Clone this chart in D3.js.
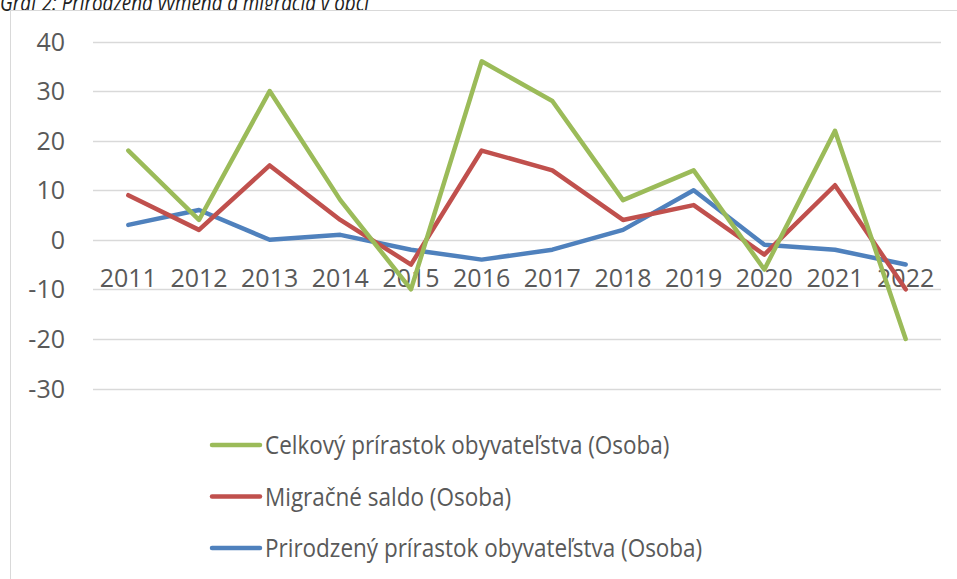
<!DOCTYPE html>
<html>
<head>
<meta charset="utf-8">
<script src="https://cdn.jsdelivr.net/npm/d3@7"></script>
<style>
  body { margin: 0; background: #fff; }
  svg { display: block; font-family: "Open Sans", sans-serif; }
</style>
</head>
<body>
<svg id="chart" width="957" height="579"></svg>
<script>
// data
var years = ["2011","2012","2013","2014","2015","2016","2017","2018","2019","2020","2021","2022"];
var celkovy = [18, 4, 30, 8, -10, 36, 28, 8, 14, -6, 22, -20];
var migracne = [9, 2, 15, 4, -5, 18, 14, 4, 7, -3, 11, -10];
var prirodzeny = [3, 6, 0, 1, -2, -4, -2, 2, 10, -1, -2, -5];
var yTicks = [40, 30, 20, 10, 0, -10, -20, -30];

var seriesNames = ["Celkový prírastok obyvateľstva (Osoba)", "Migračné saldo (Osoba)", "Prirodzený prírastok obyvateľstva (Osoba)"];
var seriesColors = ["#9bbb59", "#c0504d", "#4f81bd"];
var seriesValues = [celkovy, migracne, prirodzeny];

var svg = d3.select("#chart");

// title, cut by the top edge as in the page it came from
// (squeezed a bit, the original font is narrower)
svg.append("text")
    .attr("transform", "translate(0,11) scale(0.82,1)")
    .attr("font-size", 23).attr("font-style", "italic")
    .attr("fill", "#222")
    .text("Graf 2: Prirodzená výmena a migrácia v obci");

// chart frame
svg.append("rect")
    .attr("x", 10.5).attr("y", 10.5)
    .attr("width", 960).attr("height", 600)
    .attr("fill", "#fff").attr("stroke", "#d9d9d9").attr("stroke-width", 1);

var xScale = d3.scaleBand().domain(years).range([93, 941]);
var yScale = d3.scaleLinear().domain([-30, 40]).range([388.5, 41.5]);

// gridlines
svg.append("g")
  .selectAll("line")
  .data(yTicks)
  .join("line")
    .attr("x1", 93).attr("x2", 941)
    .attr("y1", d => Math.round(yScale(d)) + 0.5)
    .attr("y2", d => Math.round(yScale(d)) + 0.5)
    .attr("stroke", "#d9d9d9").attr("stroke-width", 1.5);

// y labels
svg.append("g")
  .selectAll("text")
  .data(yTicks)
  .join("text")
    .attr("x", 65).attr("y", d => yScale(d) + 9)
    .attr("text-anchor", "end")
    .attr("font-size", 25).attr("fill", "#595959")
    .text(d => d);

// category labels sit under the zero line
svg.append("g")
  .selectAll("text")
  .data(years)
  .join("text")
    .attr("x", d => xScale(d) + xScale.bandwidth() / 2)
    .attr("y", yScale(0) + 47)
    .attr("text-anchor", "middle")
    .attr("font-size", 25).attr("fill", "#595959")
    .text(d => d);

var line = d3.line()
    .x((d, i) => xScale(years[i]) + xScale.bandwidth() / 2)
    .y(d => yScale(d));

// blue under red under green
[2, 1, 0].forEach(function(k) {
  svg.append("path")
      .attr("d", line(seriesValues[k]))
      .attr("fill", "none")
      .attr("stroke", seriesColors[k])
      .attr("stroke-width", 4.5)
      .attr("stroke-linejoin", "round")
      .attr("stroke-linecap", "round");
});

// legend
var legend = svg.append("g")
  .selectAll("g")
  .data(seriesNames)
  .join("g")
    .attr("transform", (d, i) => "translate(212," + (445 + i * 51.5) + ")");

legend.append("line")
    .attr("x1", 0).attr("x2", 48)
    .attr("stroke", (d, i) => seriesColors[i])
    .attr("stroke-width", 4.5)
    .attr("stroke-linecap", "round");

legend.append("text")
    .attr("transform", "translate(53,9) scale(0.9,1)")
    .attr("font-size", 25).attr("fill", "#595959")
    .text(d => d);
</script>
</body>
</html>
